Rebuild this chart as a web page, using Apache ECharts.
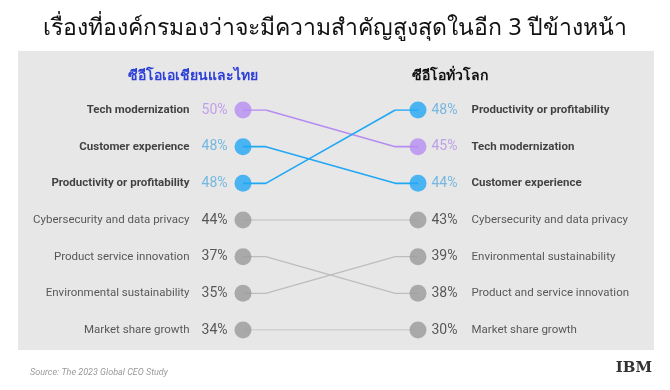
<!DOCTYPE html>
<html><head><meta charset="utf-8">
<script src="https://cdn.jsdelivr.net/npm/echarts@6/dist/echarts.min.js"></script>
<style>html,body{margin:0;padding:0;background:#fff}#c{width:670px;height:390px}</style>
</head><body><div id="c"></div>
<script>
const titleText = 'เรื่องที่องค์กรมองว่าจะมีความสำคัญสูงสุดในอีก 3 ปีข้างหน้า';
const leftHeader = 'ซีอีโอเอเชียนและไทย';
const rightHeader = 'ซีอีโอทั่วโลก';
const sourceText = 'Source: The 2023 Global CEO Study';
const leftCategories = ['Tech modernization','Customer experience','Productivity or profitability','Cybersecurity and data privacy','Product service innovation','Environmental sustainability','Market share growth'];
const leftValues = [50,48,48,44,37,35,34];
const rightCategories = ['Productivity or profitability','Tech modernization','Customer experience','Cybersecurity and data privacy','Environmental sustainability','Product and service innovation','Market share growth'];
const rightValues = [48,45,44,43,39,38,30];
const rightRankOfLeft = [1,2,0,3,5,4,6];

const PURPLE='#b68cf2', BLUE='#22a7f4', GRAY='#9a9a9a';
const leftColor = [PURPLE,BLUE,BLUE,GRAY,GRAY,GRAY,GRAY];
const lineColor = [PURPLE,BLUE,BLUE,'#bdbdbd','#bdbdbd','#bdbdbd','#bdbdbd'];
const pctColorLeft = ['#b48ee8','#5aabdf','#5aabdf','#333','#333','#333','#333'];
const bold = [true,true,true,false,false,false,false];
const bend = 0.13;

const series = [];
leftCategories.forEach((name,i)=>{
  const r = rightRankOfLeft[i];
  series.push({type:'line', symbol:'none', silent:true, z:2,
    lineStyle:{color:lineColor[i], width: bold[i]?1.6:1.2},
    data:[[0,i],[bend,i],[1-bend,r],[1,r]]});
});
const font = 'Roboto, "Noto Sans", sans-serif';
series.push({type:'scatter', symbolSize:17, z:5,
  data: leftCategories.map((n,i)=>({value:[0,i], itemStyle:{color:leftColor[i]},
    label:{show:true, position:'left', distance:7,
      formatter:'{'+(bold[i]?'b':'n')+'|'+n+'}{p'+i+'|'+leftValues[i]+'%}'}})),
  label:{rich:Object.assign({
    b:{fontFamily:font, fontSize:11.5, fontWeight:'bold', color:'#161616'},
    n:{fontFamily:font, fontSize:11.5, color:'#333'}},
    Object.fromEntries(leftValues.map((v,i)=>['p'+i,{fontFamily:font,fontSize:14,color:pctColorLeft[i],width:38,align:'right'}])))}
});
const rightColor = rightCategories.map((n,j)=>leftColor[rightRankOfLeft.indexOf(j)]);
const rightBold = rightCategories.map((n,j)=>bold[rightRankOfLeft.indexOf(j)]);
const pctColorRight = rightCategories.map((n,j)=>{const c=rightColor[j]; return c===PURPLE?'#b48ee8':c===BLUE?'#5aabdf':'#333';});
series.push({type:'scatter', symbolSize:17, z:5,
  data: rightCategories.map((n,j)=>({value:[1,j], itemStyle:{color:rightColor[j]},
    label:{show:true, position:'right', distance:5,
      formatter:'{p'+j+'|'+rightValues[j]+'%}{'+(rightBold[j]?'b':'n')+'|'+n+'}'}})),
  label:{rich:Object.assign({
    b:{fontFamily:font, fontSize:11.5, fontWeight:'bold', color:'#161616'},
    n:{fontFamily:font, fontSize:11.5, color:'#333'}},
    Object.fromEntries(rightValues.map((v,j)=>['p'+j,{fontFamily:font,fontSize:14,color:pctColorRight[j],width:40,align:'left'}])))}
});

const chart = echarts.init(document.getElementById('c'));
chart.setOption({
  animation:false,
  backgroundColor:'#fff',
  graphic:[{type:'rect', shape:{x:18,y:51,width:636,height:299}, style:{fill:'#e7e7e7'}, z:-10}],
  title:[
    {text:titleText, left:'center', top:12, textStyle:{fontSize:23, fontWeight:'normal', color:'#111', fontFamily:'"Noto Sans", sans-serif'}},
    {text:leftHeader, left:188, textAlign:'center', top:64, textStyle:{fontSize:14, fontWeight:'bold', color:'#2e3fd8', fontFamily:'"Noto Sans", sans-serif'}},
    {text:rightHeader, left:445, textAlign:'center', top:64, textStyle:{fontSize:14, fontWeight:'bold', color:'#111', fontFamily:'"Noto Sans", sans-serif'}},
    {text:sourceText, left:25, top:363, textStyle:{fontSize:9, fontStyle:'italic', fontWeight:'normal', color:'#999', fontFamily:font}},
    {text:'IBM', left:652, textAlign:'right', top:361, padding:0, textStyle:{fontSize:15, fontWeight:'bold', color:'#333', fontFamily:'"DejaVu Serif", serif'}}
  ],
  grid:{left:243, width:175, top:110, height:220},
  xAxis:{type:'value', min:0, max:1, show:false},
  yAxis:{type:'value', min:0, max:6, inverse:true, show:false},
  series
});
</script></body></html>
